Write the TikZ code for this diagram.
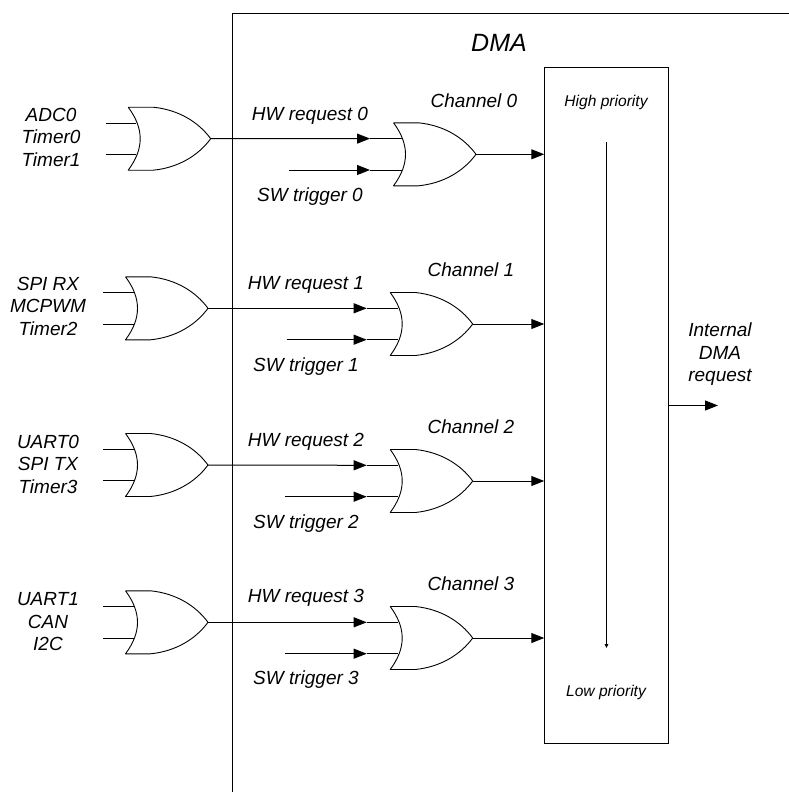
\documentclass[tikz,border=0pt]{standalone}
\usepackage{fontspec}
\setmainfont{Liberation Sans}
\usetikzlibrary{arrows.meta}
\tikzset{
  wire/.style={line width=1pt,black},
  gateline/.style={line width=0.9pt,black,line join=round},
  headarrow/.style={wire,-{Triangle[length=13pt,width=10pt]}},
  smallarrow/.style={wire,-{Triangle[length=4pt,width=3.5pt]}},
  lab/.style={font=\fontsize{19}{22.5}\selectfont\itshape,inner sep=0pt,anchor=center},
  smalllab/.style={font=\fontsize{15.6}{18}\selectfont\itshape,inner sep=0pt,anchor=center},
  orgate/.pic={
    \draw[gateline] (-82.5,-31.5) -- (-57.5,-31.5)
      .. controls (-32.5,-29) and (-12.5,-17) .. (0,0)
      .. controls (-12.5,17) and (-32.5,29) .. (-57.5,31.5)
      -- (-82.5,31.5)
      .. controls (-66.5,10) and (-66.5,-10) .. (-82.5,-31.5);
    \coordinate (-out) at (0,0);
    \coordinate (-a) at (-74.5,-15.7);
    \coordinate (-b) at (-74.5,15.7);
    \coordinate (-atip) at (-106,-15.7);
    \coordinate (-btip) at (-106,15.7);
  }
}
\begin{document}
\begin{tikzpicture}[x=1pt,y=-1pt]
\useasboundingbox (0,0) rectangle (789,792);
\coordinate (fa) at (232,792);
\coordinate (fb) at (232,14);
\coordinate (fc) at (789,14);
\draw[wire] (fa) -- (fb) -- (fc);
\node[lab,font=\fontsize{25}{28}\selectfont\itshape] (dma) at (499,43) {DMA};
\node[draw,line width=1pt,minimum width=123.5pt,minimum height=675pt,inner sep=0pt] (prio) at (606.5,405.5) {};
\node[smalllab] (high) at (606,102.3) {High priority};
\node[smalllab] (low) at (606,692.5) {Low priority};
\coordinate (pa) at (606.5,142);
\coordinate (pb) at (606.5,648);
\draw[smallarrow] (pa) -- (pb);
\node[lab,align=center,font=\fontsize{19}{22.5}\selectfont\itshape] (intl) at (720,354.5) {Internal\\DMA\\request};
\coordinate (outend) at (718,405.5);
\draw[headarrow] (prio.east |- outend) -- (outend);
\foreach \n/\lx/\ly/\rx/\ry/\sw/\tx/\ty/\ta/\tb/\tc/\hx/\hy/\sy/\cx/\cy in {
  0/210.7/138.7/476/154.3/289/51/137/ADC0/Timer0/Timer1/310/115.5/197/474/100.5,
  1/208/308.3/472.7/324/286.7/48/306/SPI RX/MCPWM/Timer2/306/285/367/471/269.7,
  2/208/465/472.7/481/285/48/464/UART0/SPI TX/Timer3/306/441.5/523.5/471/426.7,
  3/208/622.3/472.7/638/285/48/621.5/UART1/CAN/I2C/306/598/680/471/584}{
  \pic (L\n) at (\lx,\ly) {orgate};
  \pic (R\n) at (\rx,\ry) {orgate};
  \coordinate (Lia\n) at ([xshift=-105pt,yshift=15.7pt]L\n-out);
  \coordinate (Lib\n) at ([xshift=-105pt,yshift=-15.7pt]L\n-out);
  \draw[wire] (Lia\n) -- (Lia\n -| L\n-a);
  \draw[wire] (Lib\n) -- (Lib\n -| L\n-b);
  \draw[headarrow] (L\n-out) -- (R\n-atip);
  \draw[wire] (R\n-atip) -- (R\n-a);
  \coordinate (S\n) at (\sw,\ry+15.7);
  \draw[headarrow] (S\n) -- (R\n-btip);
  \draw[wire] (R\n-btip) -- (R\n-b);
  \draw[headarrow] (R\n-out) -- (R\n-out -| prio.west);
  \node[lab] (T\n a) at (\tx,\ty-22.5) {\ta};
  \node[lab] (T\n b) at (\tx,\ty) {\tb};
  \node[lab] (T\n c) at (\tx,\ty+22.5) {\tc};
  \node[lab] (H\n) at (\hx,\hy) {HW request \n};
  \node[lab] (W\n) at (\hx,\sy) {SW trigger \n};
  \node[lab] (C\n) at (\cx,\cy) {Channel \n};
}
\end{tikzpicture}
\end{document}
